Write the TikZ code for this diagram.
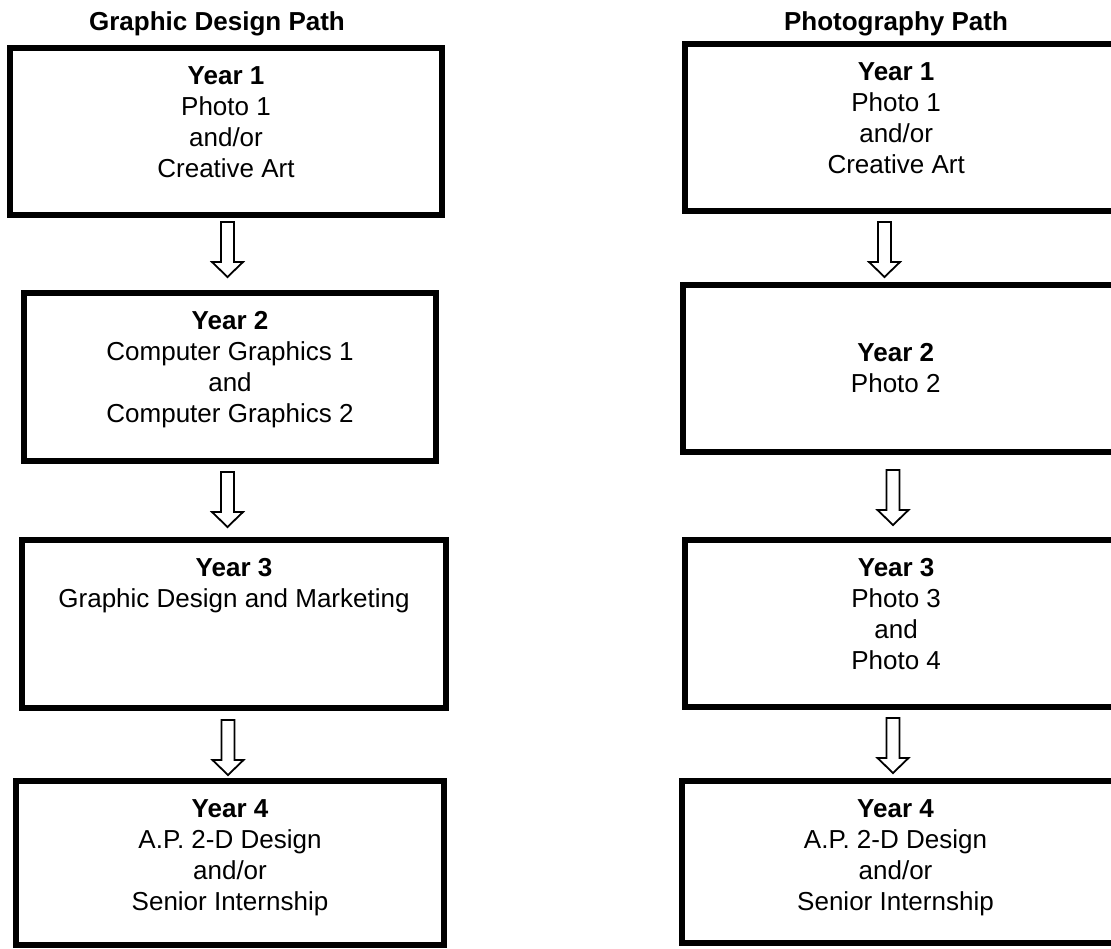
\documentclass[tikz,border=0pt]{standalone}
\usepackage{fontspec}
\setmainfont{Liberation Sans}
\begin{document}
\begin{tikzpicture}[x=0.5pt,y=-0.5pt,
  box/.style={draw, line width=3pt, rectangle, inner sep=0pt},
  boxtext/.style={align=center, inner sep=0pt, font=\fontsize{13}{15.5}\selectfont},
  pathtitle/.style={font=\fontsize{13}{15}\selectfont\bfseries, inner sep=0pt, anchor=base},
  hollow/.style={draw, line width=0.9pt, fill=white, line join=miter},
  downarr/.pic={\path[hollow] (-6.5,0) -- (-6.5,40) -- (-15.5,40) -- (0,55) -- (15.5,40) -- (6.5,40) -- (6.5,0) -- cycle;}
]
\useasboundingbox (0,0) rectangle (1111,948);

% titles
\node[pathtitle] (T1) at (217,30) {Graphic Design Path};
\node[pathtitle] (T2) at (896,30) {Photography Path};

% left column boxes
\node[box, minimum width=216pt, minimum height=83.5pt] (L1) at (226,131.5) {};
\node[box, minimum width=206pt, minimum height=84pt] (L2) at (230,377) {};
\node[box, minimum width=212pt, minimum height=84pt] (L3) at (234,624) {};
\node[box, minimum width=214pt, minimum height=82pt] (L4) at (230,863) {};

% right column boxes (right side runs past the picture edge)
\node[box, minimum width=215.25pt, minimum height=83.5pt] (R1) at (899.75,127.5) {};
\node[box, minimum width=216.25pt, minimum height=83.75pt] (R2) at (898.75,368.25) {};
\node[box, minimum width=215.25pt, minimum height=83.5pt] (R3) at (899.75,623) {};
\node[box, minimum width=216.5pt, minimum height=81pt] (R4) at (898.5,862) {};

% texts
\node[boxtext, anchor=north] (L1t) at ([yshift=-10.5pt]L1.north) {\textbf{Year 1}\\Photo 1\\and/or\\Creative Art};
\node[boxtext, anchor=north] (L2t) at ([yshift=-10.5pt]L2.north) {\textbf{Year 2}\\Computer Graphics 1\\and\\Computer Graphics 2};
\node[boxtext, anchor=north] (L3t) at ([yshift=-10.5pt]L3.north) {\textbf{Year 3}\\Graphic Design and Marketing};
\node[boxtext, anchor=north] (L4t) at ([yshift=-10.5pt]L4.north) {\textbf{Year 4}\\A.P. 2-D Design\\and/or\\Senior Internship};

\node[boxtext, anchor=north] (R1t) at ([xshift=-1.8pt,yshift=-10.5pt]R1.north) {\textbf{Year 1}\\Photo 1\\and/or\\Creative Art};
\node[boxtext, anchor=center] (R2t) at ([xshift=-1.5pt]R2.center) {\textbf{Year 2}\\Photo 2};
\node[boxtext, anchor=north] (R3t) at ([xshift=-1.8pt,yshift=-10.5pt]R3.north) {\textbf{Year 3}\\Photo 3\\and\\Photo 4};
\node[boxtext, anchor=north] (R4t) at ([xshift=-1.5pt,yshift=-10.5pt]R4.north) {\textbf{Year 4}\\A.P. 2-D Design\\and/or\\Senior Internship};

% hollow arrows
\coordinate (la1) at (227.5,222);
\coordinate (la2) at (227.5,472);
\coordinate (la3) at (228,720);
\coordinate (ra1) at (884.5,222);
\coordinate (ra2) at (893,470);
\coordinate (ra3) at (893,718);
\pic at (la1) {downarr};
\pic at (la2) {downarr};
\pic at (la3) {downarr};
\pic at (ra1) {downarr};
\pic at (ra2) {downarr};
\pic at (ra3) {downarr};
\end{tikzpicture}
\end{document}
